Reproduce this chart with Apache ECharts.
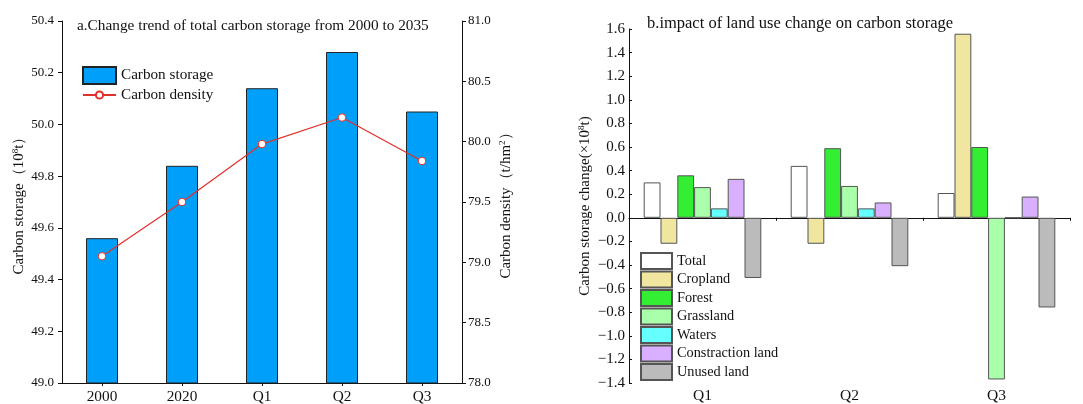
<!DOCTYPE html>
<html><head><meta charset="utf-8">
<script src="https://cdn.jsdelivr.net/npm/echarts@6/dist/echarts.min.js"></script>
<style>html,body{margin:0;padding:0;background:#fff}#c{width:1083px;height:404px}</style>
</head><body><div id="c"></div>
<script>
// ---- Data ----
const yearCats = ['2000', '2020', 'Q1', 'Q2', 'Q3'];
const carbonStorage = [49.56, 49.84, 50.14, 50.28, 50.05];
const carbonDensity = [79.05, 79.50, 79.98, 80.20, 79.84];

const scenarioCats = ['Q1', 'Q2', 'Q3'];
const landNames = ['Total', 'Cropland', 'Forest', 'Grassland', 'Waters', 'Constraction land', 'Unused land'];
const totalChange = [0.30, 0.44, 0.21];
const croplandChange = [-0.22, -0.22, 1.56];
const forestChange = [0.36, 0.59, 0.60];
const grasslandChange = [0.26, 0.27, -1.37];
const watersChange = [0.08, 0.08, 0];
const constructionChange = [0.33, 0.13, 0.18];
const unusedChange = [-0.51, -0.41, -0.76];

const landValues = [totalChange, croplandChange, forestChange, grasslandChange, watersChange, constructionChange, unusedChange];
const landColors = ['#FFFFFF', '#F0E6A0', '#33EE33', '#AAFFAA', '#66FFFF', '#D9B0FF', '#BBBBBB'];

const FONT = '"Liberation Serif", "Times New Roman", serif';
const fmt1 = v => (v < 0 ? '\u2212' : '') + Math.abs(v).toFixed(1);
const axisTxt = { color: '#111', fontFamily: FONT, fontSize: 13 };
const nameRich = {
  t: { fontFamily: FONT, fontSize: 15, color: '#111' },
  s: { fontFamily: FONT, fontSize: 9, color: '#111', verticalAlign: 'top', padding: [0, 0, 8, 0] }
};

const chart = echarts.init(document.getElementById('c'), null, { renderer: 'canvas' });

const landSeries = landNames.map((n, i) => ({
  name: n, type: 'bar', xAxisIndex: 2, yAxisIndex: 2,
  data: landValues[i],
  barGap: '0%', barCategoryGap: '20%',
  itemStyle: { color: landColors[i], borderColor: '#555', borderWidth: 1 },
  emphasis: { disabled: true }
}));

chart.setOption({
  animation: false,
  textStyle: { fontFamily: FONT },
  title: [
    { text: 'a.Change trend of total carbon storage from 2000 to 2035', left: 77, top: 18, padding: 0,
      textStyle: { fontFamily: FONT, fontSize: 15.3, fontWeight: 'normal', color: '#111' } },
    { text: 'b.impact of land use change on carbon storage', left: 647, top: 15, padding: 0,
      textStyle: { fontFamily: FONT, fontSize: 16.5, fontWeight: 'normal', color: '#111' } }
  ],
  legend: [
    { left: 82, top: 66, padding: 0, orient: 'vertical', itemWidth: 33, itemHeight: 17,
      data: [{ name: 'Carbon storage', icon: 'rect' }],
      textStyle: { fontFamily: FONT, fontSize: 15.2, lineHeight: 17, color: '#111' } },
    { left: 82, top: 86.5, padding: 0, orient: 'vertical', itemWidth: 33, itemHeight: 9,
      data: ['Carbon density'],
      textStyle: { fontFamily: FONT, fontSize: 15.2, lineHeight: 17, color: '#111' } },
    { left: 640, top: 252, padding: 0, orient: 'vertical', itemWidth: 31, itemHeight: 16, itemGap: 0.5,
      data: landNames.map(n => ({ name: n, icon: 'rect' })),
      textStyle: { fontFamily: FONT, fontSize: 14.3, lineHeight: 16, color: '#111' } }
  ],
  grid: [
    { left: 62, right: 621, top: 21, bottom: 20 },
    { left: 629, right: 13, top: 29, bottom: 21 }
  ],
  xAxis: [
    { gridIndex: 0, type: 'category', data: yearCats,
      axisLine: { lineStyle: { color: '#111', width: 1 } },
      axisTick: { show: true, alignWithLabel: true, length: 3, lineStyle: { color: '#111' } },
      axisLabel: { ...axisTxt, fontSize: 15.3, margin: 6 } },
    { gridIndex: 1, type: 'category', data: scenarioCats,
      axisLine: { onZero: true, lineStyle: { color: '#111', width: 1 } },
      axisTick: { show: true, length: 3, inside: false, lineStyle: { color: '#111' } },
      axisLabel: { show: false } },
    { gridIndex: 1, type: 'category', data: scenarioCats, position: 'bottom',
      axisLine: { show: false, onZero: false }, axisTick: { show: false },
      axisLabel: { ...axisTxt, fontSize: 15.5, margin: 5 } }
  ],
  yAxis: [
    { gridIndex: 0, type: 'value', min: 49.0, max: 50.4, interval: 0.2,
      name: '{t|Carbon storage（10}{s|8}{t|t）}', nameLocation: 'middle', nameGap: 34, nameRotate: 90,
      nameTextStyle: { rich: nameRich },
      axisLine: { show: true, lineStyle: { color: '#111' } },
      axisTick: { show: true, length: 4, lineStyle: { color: '#111' } },
      splitLine: { show: false },
      axisLabel: { ...axisTxt, margin: 8, formatter: fmt1 } },
    { gridIndex: 0, type: 'value', position: 'right', min: 78.0, max: 81.0, interval: 0.5,
      name: '{t|Carbon density（t/hm}{s|2}{t|）}', nameLocation: 'middle', nameGap: 36, nameRotate: 90,
      nameTextStyle: { rich: nameRich },
      axisLine: { show: true, lineStyle: { color: '#111' } },
      axisTick: { show: true, length: 4, lineStyle: { color: '#111' } },
      splitLine: { show: false },
      axisLabel: { ...axisTxt, margin: 6, formatter: fmt1 } },
    { gridIndex: 1, type: 'value', min: -1.4, max: 1.6, interval: 0.2,
      name: '{t|Carbon storage change(×10}{s|8}{t|t)}', nameLocation: 'middle', nameGap: 35, nameRotate: 90,
      nameTextStyle: { rich: nameRich },
      axisLine: { show: true, lineStyle: { color: '#111' } },
      axisTick: { show: true, inside: true, length: 3, lineStyle: { color: '#111' } },
      splitLine: { show: false },
      axisLabel: { ...axisTxt, fontSize: 15, margin: 4, formatter: fmt1 } }
  ],
  series: [
    { name: 'Carbon storage', type: 'bar', xAxisIndex: 0, yAxisIndex: 0, data: carbonStorage,
      barWidth: '40%', itemStyle: { color: '#00A0FA', borderColor: '#222', borderWidth: 1 },
      emphasis: { disabled: true } },
    { name: 'Carbon density', type: 'line', xAxisIndex: 0, yAxisIndex: 1, data: carbonDensity,
      symbol: 'circle', symbolSize: 7.5,
      lineStyle: { color: '#E0302A', width: 1.2 },
      itemStyle: { color: '#FFFFFF', borderColor: '#E0302A', borderWidth: 1 },
      emphasis: { disabled: true } },
    ...landSeries
  ]
});
</script></body></html>
